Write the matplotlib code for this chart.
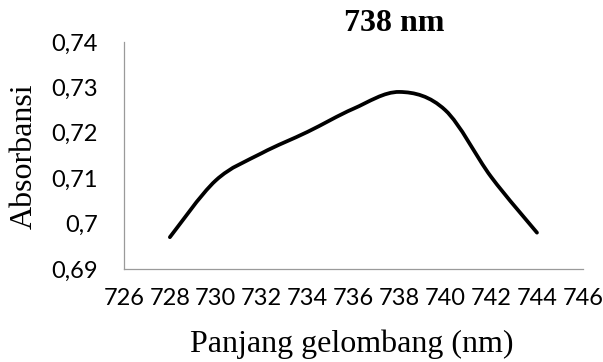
import numpy as np
import matplotlib
matplotlib.use("Agg")
import matplotlib.pyplot as plt
from matplotlib.path import Path
from matplotlib.patches import PathPatch

# absorbance scan around the maximum
wavelength = [728, 730, 732, 734, 736, 738, 740, 742, 744]
absorbance = [0.697, 0.7095, 0.7155, 0.7202, 0.7253, 0.729, 0.725, 0.7103, 0.698]

x_ticks = [726, 728, 730, 732, 734, 736, 738, 740, 742, 744, 746]
y_ticks = [0.69, 0.70, 0.71, 0.72, 0.73, 0.74]
y_tick_labels = ["0,69", "0,7", "0,71", "0,72", "0,73", "0,74"]


def smooth_path(xs, ys, k=1 / 6):
    # Excel-style smoothed line: cubic Bezier through every point
    pts = np.column_stack([xs, ys]).astype(float)
    verts = [pts[0]]
    codes = [Path.MOVETO]
    n = len(pts)
    for i in range(n - 1):
        p0 = pts[i - 1] if i > 0 else pts[i]
        p1, p2 = pts[i], pts[i + 1]
        p3 = pts[i + 2] if i + 2 < n else pts[i + 1]
        c1 = p1 + (p2 - p0) * k
        c2 = p2 - (p3 - p1) * k
        verts += [c1, c2, p2]
        codes += [Path.CURVE4] * 3
    return Path(verts, codes)


serif = "Liberation Serif"
fig = plt.figure(figsize=(6.03, 3.62), dpi=100)
ax = fig.add_axes([0.2056, 0.257, 0.761, 0.627])

ax.add_patch(PathPatch(smooth_path(wavelength, absorbance), fill=False,
                       edgecolor="black", lw=2.7, capstyle="round", joinstyle="round"))

ax.set_xlim(726, 746)
ax.set_ylim(0.69, 0.74)
ax.set_xticks(x_ticks)
ax.set_yticks(y_ticks)
ax.set_yticklabels(y_tick_labels)
for s in ("top", "right"):
    ax.spines[s].set_visible(False)
for s in ("left", "bottom"):
    ax.spines[s].set_color("#9a9a9a")
    ax.spines[s].set_linewidth(0.9)
ax.tick_params(length=0, labelsize=17)
ax.tick_params(axis="x", pad=14)
ax.tick_params(axis="y", pad=19)
for lab in ax.get_xticklabels() + ax.get_yticklabels():
    lab.set_family("Lato")

fig.text(0.654, 0.934, "738 nm", family=serif, weight="bold", fontsize=23,
         ha="center", va="center")
fig.text(0.041, 0.569, "Absorbansi", family=serif, fontsize=23,
         rotation=90, ha="center", va="center")
fig.text(0.584, 0.05, "Panjang gelombang (nm)", family=serif, fontsize=23,
         ha="center", va="center")

fig.savefig("out.png", dpi=100)
